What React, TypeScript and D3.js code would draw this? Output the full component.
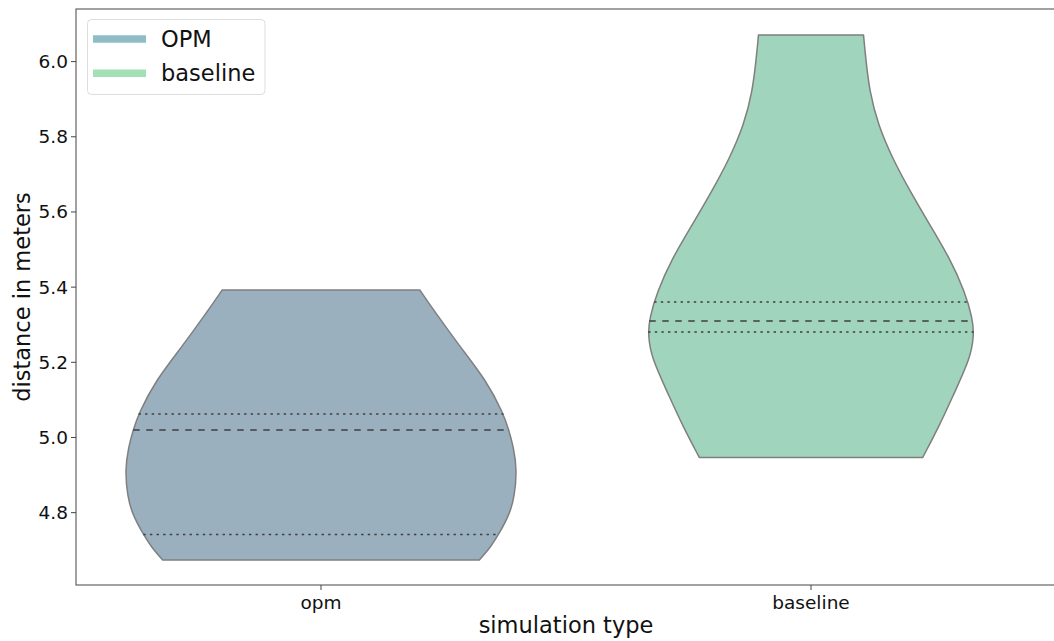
import React from "react";
import * as d3 from "d3";

// Categories shown on the x axis
const categories = ["opm", "baseline"];
const legendLabels = ["OPM", "baseline"];

// Kernel density profile of each group: value (m) and relative density (peak = 1)
const opmValues = [4.674, 4.7094, 4.745, 4.7983, 4.8425, 4.9135, 4.9755, 5.02, 5.0644, 5.153, 5.2416, 5.3305, 5.3925];
const opmDensity = [0.808, 0.867, 0.91, 0.964, 0.987, 1.0, 0.982, 0.958, 0.93, 0.842, 0.709, 0.586, 0.504];

const baselineValues = [4.947, 5.033, 5.122, 5.211, 5.273, 5.317, 5.388, 5.477, 5.566, 5.654, 5.743, 5.832, 5.92, 6.009, 6.071];
const baselineDensity = [0.57, 0.657, 0.734, 0.813, 0.832, 0.824, 0.785, 0.708, 0.606, 0.507, 0.415, 0.342, 0.299, 0.279, 0.268];

// Quartiles (Q1, median, Q3)
const opmQuartiles = [4.742, 5.02, 5.0625];
const baselineQuartiles = [5.2807, 5.31, 5.3606];

const yTicks = [4.8, 5.0, 5.2, 5.4, 5.6, 5.8, 6.0];

const fillColors = ["#9bb0bf", "#a0d4bc"];
const legendColors = ["#8fbdc5", "#a3e0b6"];

const W = 1054;
const H = 641;
const left = 76;
const right = 1056;
const top = 9;
const bottom = 585;
const font = "DejaVu Sans, sans-serif";

export default function App() {
  const x = d3.scaleBand<string>().domain(categories).range([left, right]).padding(0);
  const y = d3.scaleLinear().domain([4.6075, 6.14]).range([bottom, top]);
  const halfWidth = 0.4 * x.step();

  const groups = [
    { name: categories[0], values: opmValues, density: opmDensity, quartiles: opmQuartiles, color: fillColors[0] },
    { name: categories[1], values: baselineValues, density: baselineDensity, quartiles: baselineQuartiles, color: fillColors[1] },
  ];

  return (
    <svg
      width={W}
      height={H}
      style={{ position: "absolute", left: 0, top: 0, background: "#fff" }}
      fontFamily={font}
    >
      <defs>
        <clipPath id="plot-clip">
          <rect x={left} y={top} width={right - left} height={bottom - top} />
        </clipPath>
      </defs>

      {groups.map((g) => {
        const cx = (x(g.name) ?? 0) + x.bandwidth() / 2;
        const w = d3.scaleLinear().domain([0, 1]).range([0, halfWidth]);
        const pts = g.values.map((v, i) => ({ v, d: g.density[i] }));
        const area = d3
          .area<{ v: number; d: number }>()
          .y((p) => y(p.v))
          .x0((p) => cx - w(p.d))
          .x1((p) => cx + w(p.d))
          .curve(d3.curveBasis);
        const densityAt = d3.scaleLinear().domain(g.values).range(g.density);
        return (
          <g key={g.name} clipPath="url(#plot-clip)">
            <path d={area(pts) ?? ""} fill={g.color} stroke="#7f7f7f" strokeWidth={1.5} strokeLinejoin="round" />
            {g.quartiles.map((q, i) => {
              const hw = w(densityAt(q));
              return (
                <line
                  key={i}
                  x1={cx - hw}
                  x2={cx + hw}
                  y1={y(q)}
                  y2={y(q)}
                  stroke="#3f3f3f"
                  strokeWidth={1.5}
                  strokeDasharray={i === 1 ? "6.5,6.5" : "2.4,4.2"}
                />
              );
            })}
          </g>
        );
      })}

      {/* Spines */}
      <rect x={left} y={top} width={right - left} height={bottom - top} fill="none" stroke="#444" strokeWidth={1} />

      {/* Y axis */}
      {yTicks.map((t) => (
        <g key={t} transform={`translate(0,${y(t)})`}>
          <line x1={left - 5} x2={left} stroke="#444" strokeWidth={1} />
          <text x={left - 8} dy="0.35em" textAnchor="end" fontSize={18.5} fill="#111">
            {t.toFixed(1)}
          </text>
        </g>
      ))}

      {/* X axis */}
      {categories.map((c) => {
        const cx = (x(c) ?? 0) + x.bandwidth() / 2;
        return (
          <g key={c} transform={`translate(${cx},${bottom})`}>
            <line y1={0} y2={5} stroke="#444" strokeWidth={1} />
            <text y={24} textAnchor="middle" fontSize={18.5} fill="#111">
              {c}
            </text>
          </g>
        );
      })}

      <text x={566} y={633} textAnchor="middle" fontSize={22.5} fill="#111">
        simulation type
      </text>
      <text
        transform={`translate(30,${(top + bottom) / 2}) rotate(-90)`}
        textAnchor="middle"
        fontSize={22.5}
        fill="#111"
      >
        distance in meters
      </text>

      {/* Legend */}
      <g>
        <rect x={87.5} y={19.5} width={177.5} height={75} rx={4} fill="#fff" fillOpacity={0.8} stroke="#ddd" strokeWidth={1} />
        {legendLabels.map((l, i) => (
          <g key={l} transform={`translate(0,${39 + i * 34.3})`}>
            <line x1={93} x2={146} stroke={legendColors[i]} strokeWidth={7.5} />
            <text x={161} dy="0.35em" fontSize={22.5} fill="#111">
              {l}
            </text>
          </g>
        ))}
      </g>
    </svg>
  );
}
